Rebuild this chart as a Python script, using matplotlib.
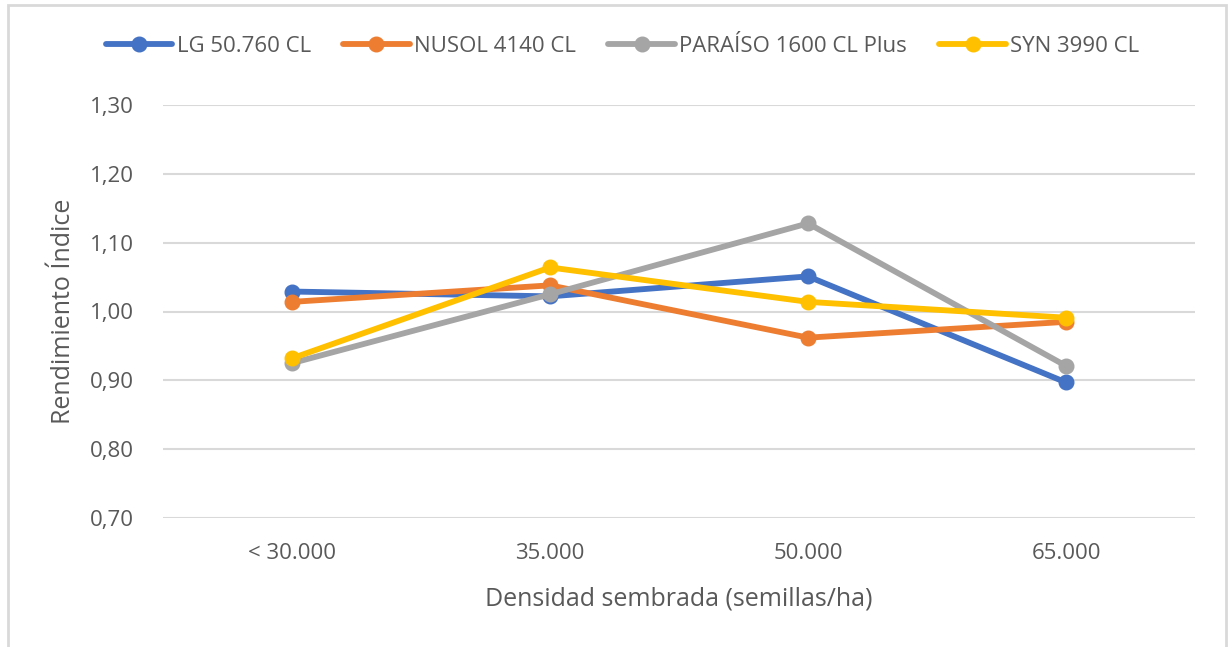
import matplotlib.pyplot as plt
from matplotlib.patches import Rectangle

# densidad sembrada (categorias) y rendimiento indice por hibrido
categories = ['< 30.000', '35.000', '50.000', '65.000']
lg_50760 = [1.029, 1.022, 1.051, 0.897]
nusol_4140 = [1.014, 1.038, 0.962, 0.985]
paraiso_1600 = [0.925, 1.025, 1.128, 0.921]
syn_3990 = [0.932, 1.064, 1.014, 0.991]
yticks = [0.70, 0.80, 0.90, 1.00, 1.10, 1.20, 1.30]

series = [
    ('LG 50.760 CL', lg_50760, '#4472C4'),
    ('NUSOL 4140 CL', nusol_4140, '#ED7D31'),
    ('PARAÍSO 1600 CL Plus', paraiso_1600, '#A5A5A5'),
    ('SYN 3990 CL', syn_3990, '#FFC000'),
]

plt.rcParams['font.family'] = ['Open Sans', 'DejaVu Sans']
text_color = '#595959'

fig = plt.figure(figsize=(12.28, 6.47), dpi=100)
ax = fig.add_axes([163 / 1228, 1 - 518 / 647, 1032 / 1228, 413 / 647])

# marco del grafico
fig.patches.append(Rectangle((8 / 1228, -0.1), 1218 / 1228, 1.1 - 5 / 647,
                             transform=fig.transFigure, fill=False,
                             edgecolor='#d9d9d9', linewidth=2))

x = range(len(categories))
for name, vals, color in series:
    ax.plot(x, vals, '-o', color=color, label=name, linewidth=4.2,
            markersize=10.5, solid_capstyle='round')

ax.set_xlim(-0.5, 3.5)
ax.set_ylim(0.70, 1.30)
ax.set_yticks(yticks)
ax.set_yticklabels([('%.2f' % v).replace('.', ',') for v in yticks])
ax.set_xticks(list(x))
ax.set_xticklabels(categories)
ax.grid(axis='y', color='#d9d9d9', linewidth=1.5)
ax.set_axisbelow(True)
for s in ax.spines.values():
    s.set_visible(False)
ax.tick_params(length=0, labelsize=16, colors=text_color, pad=21)
ax.tick_params(axis='x', pad=18)

ax.set_ylabel('Rendimiento Índice', fontsize=18, color=text_color, labelpad=10)
ax.set_xlabel('Densidad sembrada (semillas/ha)', fontsize=18, color=text_color, labelpad=16)

fig.legend(loc='center', bbox_to_anchor=(0.507, 1 - 46 / 647), ncol=4,
           frameon=False, fontsize=16, labelcolor=text_color,
           handlelength=3.0, handletextpad=0.2, columnspacing=1.45)

fig.savefig('out.png', dpi=100, facecolor='white')
